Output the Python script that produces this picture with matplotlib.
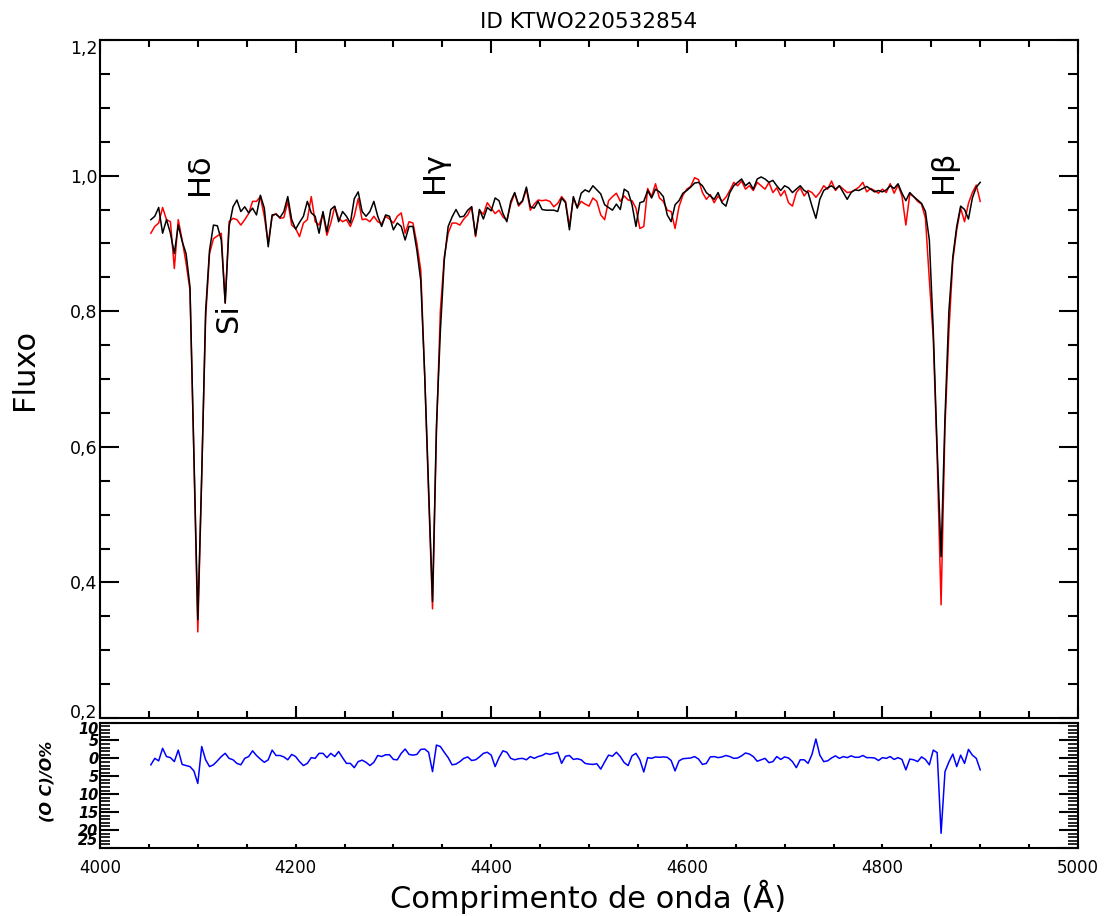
import numpy as np
import matplotlib.pyplot as plt
from matplotlib.ticker import MultipleLocator

# wavelength grid (Angstrom), 4 A steps
wave = np.arange(4052, 4901, 4)

# synthetic fit (black)
flux_model = [
    0.935, 0.940, 0.953, 0.915, 0.935, 0.915, 0.885, 0.927, 0.903, 0.885,
    0.836, 0.588, 0.345, 0.557, 0.800, 0.890, 0.927, 0.926, 0.905, 0.812,
    0.925, 0.954, 0.964, 0.947, 0.954, 0.945, 0.952, 0.942, 0.971, 0.952,
    0.895, 0.942, 0.943, 0.938, 0.947, 0.969, 0.935, 0.921, 0.931, 0.940,
    0.962, 0.945, 0.940, 0.915, 0.947, 0.917, 0.950, 0.955, 0.932, 0.947,
    0.940, 0.930, 0.966, 0.976, 0.947, 0.940, 0.947, 0.962, 0.940, 0.925,
    0.942, 0.940, 0.920, 0.930, 0.925, 0.905, 0.925, 0.925, 0.890, 0.845,
    0.706, 0.540, 0.372, 0.630, 0.770, 0.875, 0.925, 0.939, 0.950, 0.939,
    0.940, 0.949, 0.954, 0.912, 0.950, 0.936, 0.953, 0.948, 0.967, 0.963,
    0.944, 0.932, 0.962, 0.975, 0.957, 0.963, 0.983, 0.954, 0.952, 0.962,
    0.950, 0.949, 0.949, 0.949, 0.947, 0.967, 0.960, 0.920, 0.969, 0.952,
    0.974, 0.979, 0.976, 0.985, 0.979, 0.973, 0.957, 0.953, 0.949, 0.958,
    0.950, 0.980, 0.976, 0.957, 0.925, 0.960, 0.962, 0.978, 0.967, 0.980,
    0.976, 0.969, 0.942, 0.932, 0.957, 0.963, 0.974, 0.978, 0.983, 0.989,
    0.990, 0.985, 0.975, 0.970, 0.965, 0.975, 0.960, 0.955, 0.975, 0.985,
    0.990, 0.995, 0.985, 0.990, 0.980, 0.995, 0.998, 0.995, 0.990, 0.993,
    0.985, 0.978, 0.985, 0.982, 0.975, 0.980, 0.985, 0.978, 0.975, 0.955,
    0.937, 0.965, 0.978, 0.982, 0.985, 0.980, 0.985, 0.975, 0.965, 0.975,
    0.979, 0.978, 0.981, 0.984, 0.980, 0.976, 0.978, 0.976, 0.979, 0.985,
    0.981, 0.988, 0.974, 0.963, 0.975, 0.969, 0.964, 0.959, 0.947, 0.905,
    0.772, 0.596, 0.438, 0.643, 0.800, 0.880, 0.925, 0.955, 0.950, 0.936,
    0.967, 0.983, 0.990,
]

# observed spectrum (red)
flux_obs = [
    0.915, 0.925, 0.930, 0.953, 0.935, 0.932, 0.863, 0.935, 0.905, 0.871,
    0.831, 0.585, 0.327, 0.560, 0.790, 0.885, 0.907, 0.911, 0.915, 0.812,
    0.932, 0.937, 0.935, 0.927, 0.935, 0.944, 0.962, 0.962, 0.969, 0.940,
    0.900, 0.940, 0.944, 0.937, 0.938, 0.962, 0.927, 0.922, 0.910, 0.930,
    0.935, 0.969, 0.932, 0.927, 0.944, 0.912, 0.930, 0.954, 0.937, 0.932,
    0.935, 0.925, 0.940, 0.966, 0.935, 0.936, 0.932, 0.940, 0.932, 0.929,
    0.940, 0.936, 0.930, 0.940, 0.945, 0.915, 0.932, 0.930, 0.900, 0.860,
    0.705, 0.530, 0.361, 0.620, 0.800, 0.880, 0.915, 0.930, 0.930, 0.927,
    0.936, 0.942, 0.954, 0.910, 0.949, 0.943, 0.960, 0.952, 0.944, 0.949,
    0.939, 0.934, 0.958, 0.974, 0.955, 0.962, 0.980, 0.949, 0.958, 0.964,
    0.963, 0.964, 0.962, 0.954, 0.959, 0.969, 0.962, 0.925, 0.967, 0.953,
    0.962, 0.958, 0.955, 0.967, 0.962, 0.942, 0.935, 0.963, 0.969, 0.974,
    0.962, 0.970, 0.964, 0.963, 0.952, 0.922, 0.925, 0.981, 0.969, 0.988,
    0.967, 0.962, 0.949, 0.947, 0.922, 0.954, 0.971, 0.980, 0.984, 0.997,
    0.994, 0.975, 0.965, 0.972, 0.960, 0.970, 0.962, 0.968, 0.978, 0.990,
    0.985, 0.992, 0.980, 0.985, 0.978, 0.990, 0.985, 0.980, 0.990, 0.975,
    0.982, 0.970, 0.978, 0.960, 0.955, 0.975, 0.982, 0.970, 0.978, 0.975,
    0.968, 0.975, 0.985, 0.980, 0.992, 0.978, 0.985, 0.980, 0.975, 0.976,
    0.979, 0.983, 0.990, 0.976, 0.981, 0.978, 0.974, 0.980, 0.975, 0.988,
    0.974, 0.986, 0.970, 0.927, 0.973, 0.969, 0.962, 0.958, 0.937, 0.846,
    0.760, 0.585, 0.367, 0.630, 0.770, 0.875, 0.920, 0.952, 0.932, 0.959,
    0.975, 0.986, 0.962,
]

# (O-C)/O in percent (blue)
resid = [
    -1.8, 0.0, -0.7, 2.8, 0.5, 0.2, -0.9, 2.3, -1.7, -2.0,
    -2.3, -3.5, -7.0, 3.3, -0.4, -2.3, -1.8, -0.7, 0.5, 1.4,
    0.0, -0.4, -1.4, -1.8, 0.0, 0.5, 2.1, 0.8, -0.2, -1.1,
    -0.4, 2.3, 0.8, 0.8, 0.4, -0.4, 1.1, 0.5, -0.9, -2.0,
    -1.4, 0.2, 0.0, 1.4, 1.4, 0.2, 1.4, 0.5, 1.9, 0.2,
    -1.4, -1.4, -2.6, -0.9, -0.5, -1.1, -2.0, -1.1, 0.8, 0.5,
    1.0, 1.0, -0.3, -0.4, 1.4, 2.6, 1.1, 0.9, 1.1, 2.5,
    2.6, 1.7, -3.7, 3.7, 3.3, 1.7, 0.2, -1.8, -1.6, -0.9,
    0.0, 0.4, -0.6, -0.4, 0.4, 1.4, 1.7, 0.9, -2.3, 0.2,
    2.1, 1.7, 0.0, -0.4, -0.1, 0.0, -0.4, 0.5, 0.0, 0.5,
    0.8, 1.4, 1.1, 1.4, 1.7, -1.4, 0.6, 0.8, -0.3, -0.1,
    -0.4, -1.4, -1.6, -1.7, -1.5, -3.0, -1.0, 0.9, 0.6, 1.7,
    0.5, -1.2, -2.0, 0.7, 1.4, -0.4, -3.8, 0.2, 0.0, 0.4,
    0.3, 0.4, 0.3, -0.6, -3.5, -0.7, -0.1, 0.0, 0.1, 0.5,
    -0.2, -1.7, -1.4, 0.4, 0.5, 0.2, 0.4, 0.8, 0.5, 0.0,
    0.1, 0.7, 1.5, 1.2, 0.5, -0.8, -0.4, 0.0, -1.2, -0.9,
    0.5, -0.3, 0.4, 0.1, -0.9, -2.6, -0.4, -0.4, -1.4, 1.1,
    5.4, 0.9, -0.9, -0.7, 0.1, 0.7, 0.0, 0.5, 0.2, 0.7,
    0.3, 0.3, 0.8, 0.2, 0.2, 0.1, -0.6, 0.2, 0.0, 0.5,
    -0.3, 0.2, -0.3, -3.2, -0.2, -0.4, -0.9, 0.4, -0.3, -1.8,
    2.3, 1.6, -20.9, -3.7, -1.0, 1.2, -2.3, 0.9, -1.4, 2.5,
    0.9, 0.0, -3.2,
]

# line identifications
line_names = ["H\u03b4", "Si", "H\u03b3", "H\u03b2"]
line_wave = [4102, 4131, 4342, 4862]
line_flux = [1.002, 0.79, 1.005, 1.005]

flux_ticks = [0.2, 0.4, 0.6, 0.8, 1.0, 1.2]
flux_labels = ["0,2", "0,4", "0,6", "0,8", "1,0", "1,2"]
resid_ticks = [-25, -20, -15, -10, -5, 0, 5, 10]
resid_labels = ["25", "20", "15", "10", "5", "0", "5", "10"]

W, H = 1105, 916
fig = plt.figure(figsize=(W / 100, H / 100), dpi=100)
ax = fig.add_axes([100 / W, 1 - 718 / H, 978 / W, 678 / H])
axr = fig.add_axes([100 / W, 1 - 848 / H, 978 / W, 125.5 / H])

# main panel: observed vs fit
ax.plot(wave, flux_obs, color="red", lw=1.1)
ax.plot(wave, flux_model, color="black", lw=1.1)
ax.set_xlim(4000, 5000)
ax.set_ylim(0.2, 1.2)
ax.xaxis.set_major_locator(MultipleLocator(200))
ax.xaxis.set_minor_locator(MultipleLocator(50))
ax.set_yticks(flux_ticks)
ax.set_yticklabels(flux_labels)
ax.yaxis.set_minor_locator(MultipleLocator(0.05))
ax.tick_params(which="both", direction="in", top=True, right=True, width=1.5,
               labelbottom=False, labelsize=12.5, pad=2)
ax.tick_params(axis="y", which="major", length=14)
ax.tick_params(axis="y", which="minor", length=7)
ax.tick_params(axis="x", which="major", length=9)
ax.tick_params(axis="x", which="minor", length=5)
# end labels sit inside the axis range
flabs = ax.get_yticklabels()
flabs[0].set_va("baseline")
flabs[-1].set_va("top")

for name, lw_, fl in zip(line_names, line_wave, line_flux):
    ax.text(lw_, fl, name, rotation=90, ha="center", va="center", fontsize=22)

# residual panel
axr.plot(wave, resid, color="blue", lw=1.1)
axr.set_xlim(4000, 5000)
axr.set_ylim(-25, 10)
axr.xaxis.set_major_locator(MultipleLocator(200))
axr.xaxis.set_minor_locator(MultipleLocator(50))
axr.set_yticks(resid_ticks)
axr.set_yticklabels(resid_labels, fontweight="bold", style="italic", fontsize=10.5)
axr.yaxis.set_minor_locator(MultipleLocator(1))
axr.tick_params(which="both", direction="in", right=True, width=1.5, pad=1)
axr.tick_params(axis="y", which="major", length=14)
axr.tick_params(axis="y", which="minor", length=7, width=1.2)
axr.tick_params(axis="x", which="both", length=3, labelsize=12, pad=8)
ylabs = axr.get_yticklabels()
ylabs[0].set_va("bottom")
ylabs[-1].set_va("top")

for a in (ax, axr):
    for s in a.spines.values():
        s.set_linewidth(1.5)

fig.text(589 / W, 1 - 22 / H, "ID KTWO220532854", fontsize=15.5, ha="center", va="center")
fig.text(25 / W, 1 - 370 / H, "Fluxo", fontsize=22, rotation=90, ha="center", va="center")
fig.text(47 / W, 1 - 781 / H, "(O C)/O%", fontsize=11.5, fontweight="bold", style="italic",
         rotation=90, ha="center", va="center")
fig.text(588 / W, 1 - 897 / H, "Comprimento de onda (\u00c5)", fontsize=22, ha="center", va="center")

fig.savefig("out.png", dpi=100)
